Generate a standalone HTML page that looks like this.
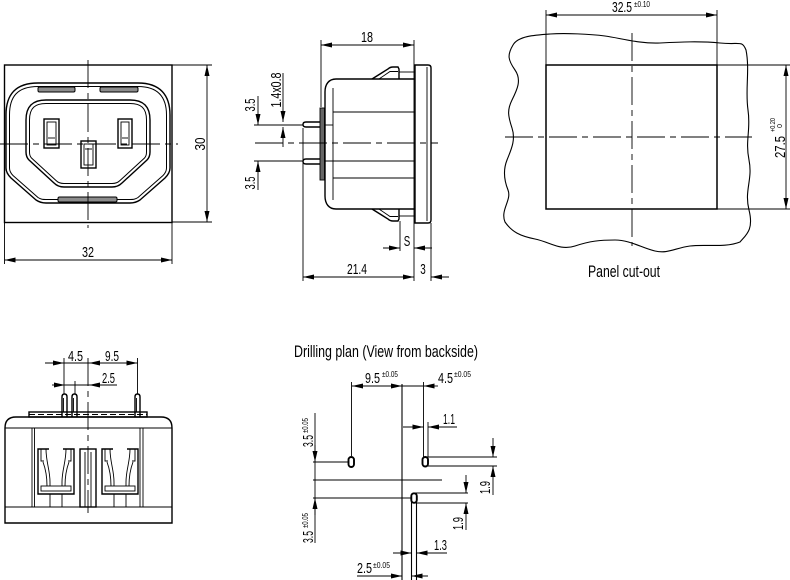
<!DOCTYPE html>
<html><head><meta charset="utf-8"><style>
html,body{margin:0;padding:0;background:#fff;}
svg{display:block;}
text{font-family:"Liberation Sans",sans-serif;fill:#000;stroke:none;}
.d{font-size:15px;}
.s{font-size:8.5px;}
</style></head><body>
<svg width="790" height="580" viewBox="0 0 790 580" xmlns="http://www.w3.org/2000/svg">
<defs>
<marker id="a" viewBox="0 0 11 5" refX="11" refY="2.5" markerWidth="11" markerHeight="5" markerUnits="userSpaceOnUse" orient="auto-start-reverse"><path d="M0,0 L11,2.5 L0,5 Z" fill="#000"/></marker>
</defs>
<rect width="790" height="580" fill="#fff"/>

<!-- ================= FRONT VIEW ================= -->
<g fill="none" stroke="#000" stroke-width="1.4">
<rect x="4.5" y="65" width="167.5" height="157.5"/>
<path d="M6,115 C6,95 15,83 38,83 L138,83 C160,83 170,95 170,115 L170,168 C170,172 168,175 165,178 L140,200 C137,202 134,203 130,203 L46,203 C42,203 39,202 36,200 L11,178 C8,175 6,172 6,168 Z"/>
<path stroke-width="1" d="M9.5,115 C9.5,97 17,86.5 38,86.5 L138,86.5 C158,86.5 166.5,97 166.5,115 L166.5,168 C166.5,171 165,173.5 163,175.5 L138,197.5 C135,199.5 133,199.5 130,199.5 L46,199.5 C43,199.5 41,199.5 38,197.5 L13,175.5 C11,173.5 9.5,171 9.5,168 Z"/>
<path d="M26,120 C26,106 33,100 46,100 L130,100 C143,100 150,106 150,120 L150,152 C150,156 149,158 147,160 L122,183 C119,186 116,187 112,187 L64,187 C60,187 57,186 54,183 L29,160 C27,158 26,156 26,152 Z"/>
<path stroke-width="1" d="M29.5,120 C29.5,108 35,103.5 46,103.5 L130,103.5 C141,103.5 146.5,108 146.5,120 L146.5,152 C146.5,155 145.5,157 144.5,158 L120,180.5 C118,182.5 115,183.5 112,183.5 L64,183.5 C61,183.5 58,182.5 56,180.5 L31.5,158 C30.5,157 29.5,155 29.5,152 Z"/>
</g>
<g fill="#8c8c8c" stroke="#000" stroke-width="1">
<rect x="38" y="87" width="37" height="5" rx="1.5"/>
<rect x="100" y="87" width="38" height="5" rx="1.5"/>
<rect x="58" y="197" width="59" height="5" rx="1.5"/>
</g>
<g fill="#fff" stroke="#000" stroke-width="1.4">
<rect x="44" y="119" width="15" height="29"/>
<rect x="118" y="119" width="14" height="29"/>
<rect x="81" y="141" width="15" height="27"/>
</g>
<g fill="none" stroke="#000" stroke-width="0.9">
<rect x="47" y="122" width="9" height="23"/>
<line x1="48" y1="138" x2="55" y2="138"/>
<rect x="121" y="122" width="8" height="23"/>
<line x1="122" y1="138" x2="128" y2="138"/>
<rect x="84" y="144" width="9" height="21"/>
<line x1="85" y1="149" x2="92" y2="149"/>
</g>
<g stroke="#000" stroke-width="0.9" fill="none" stroke-dasharray="28 5 6 5">
<line x1="88" y1="60" x2="88" y2="228"/>
<line x1="0" y1="144" x2="178" y2="144"/>
</g>
<g stroke="#000" stroke-width="0.9" fill="none">
<line x1="172" y1="65" x2="212" y2="65"/>
<line x1="172" y1="222" x2="212" y2="222"/>
<line x1="4.5" y1="222" x2="4.5" y2="264"/>
<line x1="172" y1="222" x2="172" y2="264"/>
<line x1="207" y1="65" x2="207" y2="222" marker-start="url(#a)" marker-end="url(#a)"/>
<line x1="4.5" y1="260" x2="172" y2="260" marker-start="url(#a)" marker-end="url(#a)"/>
</g>
<text class="d" transform="translate(205,144) rotate(-90)" text-anchor="middle" textLength="13" lengthAdjust="spacingAndGlyphs">30</text>
<text class="d" x="88" y="257" text-anchor="middle" textLength="12" lengthAdjust="spacingAndGlyphs">32</text>

<!-- ================= SIDE VIEW ================= -->
<g fill="none" stroke="#000" stroke-width="1.4">
<path d="M415,65 L428,65 Q431,65 431,68 L431,220 Q431,223 428,223 L415,223 Z"/>
<path d="M415,79 L336,79 C329,79 325,84 325,92 L325,196 C325,204 329,209 336,209 L415,209"/>
<path d="M372,79 L388,69 Q390,67 393,67 L398,67 L399,69 L399,79"/>
<path d="M372,209 L388,219 Q390,221 393,221 L398,221 L399,219 L399,209"/>
<path d="M322,122 L306,122 Q303,122 303,124.5 Q303,127 306,127 L322,127"/>
<path d="M322,159 L306,159 Q303,159 303,161.5 Q303,164 306,164 L322,164"/>
</g>
<g fill="none" stroke="#000" stroke-width="0.9">
<line x1="427" y1="67" x2="427" y2="221"/>
<line x1="333" y1="88" x2="333" y2="200"/>
<line x1="399" y1="72" x2="415" y2="72"/>
<line x1="399" y1="216" x2="415" y2="216"/>
<path d="M379,79 L390,71.5 L398,71.5"/>
<path d="M379,209 L390,216.5 L398,216.5"/>
<line x1="333" y1="112" x2="415" y2="112"/>
<line x1="333" y1="178" x2="415" y2="178"/>
<line x1="325" y1="161" x2="415" y2="161"/>
<line x1="325" y1="125" x2="333" y2="125"/>
</g>
<rect x="320" y="108" width="4.5" height="72" fill="#666" stroke="#000" stroke-width="0.9"/>
<line x1="255" y1="143" x2="438" y2="143" stroke="#000" stroke-width="0.9" stroke-dasharray="28 5 6 5"/>
<g stroke="#000" stroke-width="0.9" fill="none">
<line x1="321" y1="40" x2="321" y2="107"/>
<line x1="414" y1="40" x2="414" y2="281"/>
<line x1="321" y1="45" x2="414" y2="45" marker-start="url(#a)" marker-end="url(#a)"/>
<line x1="303" y1="128" x2="303" y2="281"/>
<line x1="303" y1="277" x2="414" y2="277" marker-start="url(#a)" marker-end="url(#a)"/>
<line x1="431" y1="223" x2="431" y2="281"/>
<line x1="449" y1="277" x2="431" y2="277" marker-end="url(#a)"/>
<line x1="400" y1="221" x2="400" y2="251"/>
<line x1="383" y1="248" x2="400" y2="248" marker-end="url(#a)"/>
<line x1="432" y1="248" x2="414" y2="248" marker-end="url(#a)"/>
<line x1="254" y1="125" x2="303" y2="125"/>
<line x1="254" y1="161" x2="303" y2="161"/>
<line x1="258" y1="96" x2="258" y2="125" marker-end="url(#a)"/>
<line x1="258" y1="190" x2="258" y2="161" marker-end="url(#a)"/>
<line x1="283" y1="73" x2="283" y2="122" marker-end="url(#a)"/>
<line x1="283" y1="147" x2="283" y2="127" marker-end="url(#a)"/>
</g>
<text class="d" x="367" y="42" text-anchor="middle" textLength="12" lengthAdjust="spacingAndGlyphs">18</text>
<text class="d" x="357" y="274" text-anchor="middle" textLength="20" lengthAdjust="spacingAndGlyphs">21.4</text>
<text class="d" x="423" y="274" text-anchor="middle" textLength="5.5" lengthAdjust="spacingAndGlyphs">3</text>
<text class="d" x="407" y="246" text-anchor="middle" textLength="6.5" lengthAdjust="spacingAndGlyphs">S</text>
<text class="d" transform="translate(255,105) rotate(-90)" text-anchor="middle" textLength="13" lengthAdjust="spacingAndGlyphs">3.5</text>
<text class="d" transform="translate(255,183) rotate(-90)" text-anchor="middle" textLength="13" lengthAdjust="spacingAndGlyphs">3.5</text>
<text class="d" transform="translate(281,90) rotate(-90)" text-anchor="middle" textLength="35" lengthAdjust="spacingAndGlyphs">1.4x0.8</text>

<!-- ================= PANEL CUT-OUT ================= -->
<path fill="none" stroke="#000" stroke-width="1.1" d="M513,45 C518,36 535,35 550,34 S590,34 605,36 S640,44 660,43 S700,41 720,43 S742,40 746,50 C750,70 745,90 748,110 S745,140 749,160 S744,190 749,210 S746,235 740,242 C725,248 705,244 690,246 S668,254 655,251 S630,240 615,240 S590,241 575,246 S550,242 535,239 S512,232 505,222 C500,210 512,200 508,190 S503,170 507,160 S516,140 512,128 S507,110 512,100 S522,80 515,70 S507,55 513,45 Z"/>
<rect x="546" y="65" width="171" height="144" fill="none" stroke="#000" stroke-width="1.5"/>
<g stroke="#000" stroke-width="0.9" fill="none" stroke-dasharray="28 5 6 5">
<line x1="632" y1="33" x2="632" y2="246"/>
<line x1="505" y1="137" x2="752" y2="137"/>
</g>
<g stroke="#000" stroke-width="0.9" fill="none">
<line x1="546" y1="10" x2="546" y2="65"/>
<line x1="717" y1="10" x2="717" y2="65"/>
<line x1="546" y1="15" x2="717" y2="15" marker-start="url(#a)" marker-end="url(#a)"/>
<line x1="717" y1="65" x2="790" y2="65"/>
<line x1="717" y1="209" x2="790" y2="209"/>
<line x1="786" y1="65" x2="786" y2="209" marker-start="url(#a)" marker-end="url(#a)"/>
</g>
<text class="d" x="612" y="12" textLength="20" lengthAdjust="spacingAndGlyphs">32.5</text>
<text class="s" x="634" y="7" textLength="16" lengthAdjust="spacingAndGlyphs">±0.10</text>
<text class="d" transform="translate(785,158) rotate(-90)" textLength="22" lengthAdjust="spacingAndGlyphs">27.5</text>
<text style="font-size:7px" transform="translate(775,132) rotate(-90)" textLength="14" lengthAdjust="spacingAndGlyphs">+0.20</text>
<text style="font-size:7px" transform="translate(782,128) rotate(-90)" textLength="4" lengthAdjust="spacingAndGlyphs">0</text>
<text style="font-size:17px" x="624" y="277" text-anchor="middle" textLength="72" lengthAdjust="spacingAndGlyphs">Panel cut-out</text>

<!-- ================= BOTTOM-LEFT VIEW ================= -->
<g fill="none" stroke="#000" stroke-width="1.4">
<path d="M5,523 L5,428 Q5,417 16,417 L161,417 Q172,417 172,428 L172,523 Z"/>
<rect x="29" y="412" width="118" height="5"/>
<path d="M62,417 L62,397 Q62,394 64.5,394 Q67,394 67,397 L67,417"/>
<path d="M72,417 L72,397 Q72,394 74.5,394 Q77,394 77,397 L77,417"/>
<path d="M135,417 L135,397 Q135,394 137.5,394 Q140,394 140,397 L140,417"/>
<path d="M49,449 L38,449 L38,494 L74,494 L74,449 L63,449"/>
<path d="M113,449 L102,449 L102,494 L138,494 L138,449 L127,449"/>
<rect x="80" y="449" width="16" height="58"/>
</g>
<g fill="none" stroke="#000" stroke-width="0.9">
<line x1="5" y1="428" x2="172" y2="428"/>
<line x1="5" y1="507" x2="172" y2="507"/>
<line x1="32" y1="428" x2="32" y2="507"/>
<line x1="34.5" y1="428" x2="34.5" y2="507"/>
<line x1="140" y1="428" x2="140" y2="507"/>
<line x1="143" y1="428" x2="143" y2="507"/>
<line x1="29" y1="414.5" x2="147" y2="414.5" stroke-dasharray="6 3"/>
<line x1="63.5" y1="398" x2="63.5" y2="412"/>
<line x1="73.5" y1="398" x2="73.5" y2="412"/>
<line x1="136.5" y1="398" x2="136.5" y2="412"/>
<line x1="85" y1="452" x2="85" y2="507"/>
<line x1="91" y1="452" x2="91" y2="507"/>
<path d="M41,449 L41,461 L44,461"/>
<path d="M46,449 C46,462 50,470 50,482 L50,486"/>
<path d="M43,462 C46,470 47,478 47,486"/>
<path d="M71,449 L71,461 L68,461"/>
<path d="M66,449 C66,462 62,470 62,482 L62,486"/>
<path d="M69,462 C66,470 65,478 65,486"/>
<rect x="41" y="486" width="30" height="5"/>
<line x1="50" y1="494" x2="50" y2="507"/>
<line x1="62" y1="494" x2="62" y2="507"/>
<path d="M105,449 L105,461 L108,461"/>
<path d="M110,449 C110,462 114,470 114,482 L114,486"/>
<path d="M107,462 C110,470 111,478 111,486"/>
<path d="M135,449 L135,461 L132,461"/>
<path d="M130,449 C130,462 126,470 126,482 L126,486"/>
<path d="M133,462 C130,470 129,478 129,486"/>
<rect x="105" y="486" width="30" height="5"/>
<line x1="114" y1="494" x2="114" y2="507"/>
<line x1="126" y1="494" x2="126" y2="507"/>
</g>
<line x1="88" y1="358" x2="88" y2="513" stroke="#000" stroke-width="0.9" stroke-dasharray="28 5 6 5"/>
<g stroke="#000" stroke-width="0.9" fill="none">
<line x1="64" y1="358" x2="64" y2="394"/>
<line x1="137.5" y1="358" x2="137.5" y2="394"/>
<line x1="75" y1="381" x2="75" y2="394"/>
<line x1="45" y1="363" x2="64" y2="363" marker-end="url(#a)"/>
<line x1="64" y1="363" x2="89" y2="363"/>
<line x1="89" y1="363" x2="137.5" y2="363" marker-start="url(#a)" marker-end="url(#a)"/>
<line x1="52" y1="385" x2="65" y2="385" marker-end="url(#a)"/>
<line x1="65" y1="385" x2="89" y2="385"/>
<line x1="117" y1="385" x2="89" y2="385" marker-end="url(#a)"/>
</g>
<text class="d" x="75.5" y="361" text-anchor="middle" textLength="15" lengthAdjust="spacingAndGlyphs">4.5</text>
<text class="d" x="112" y="361" text-anchor="middle" textLength="14" lengthAdjust="spacingAndGlyphs">9.5</text>
<text class="d" x="108.5" y="383" text-anchor="middle" textLength="13" lengthAdjust="spacingAndGlyphs">2.5</text>

<!-- ================= DRILLING PLAN ================= -->
<text style="font-size:17px" x="294" y="357" textLength="184" lengthAdjust="spacingAndGlyphs">Drilling plan (View from backside)</text>
<g stroke="#000" stroke-width="1.1" fill="none">
<line x1="402" y1="384" x2="402" y2="580"/>
<line x1="426" y1="457" x2="497" y2="457"/>
<line x1="426" y1="466" x2="497" y2="466"/>
<line x1="415" y1="493" x2="468" y2="493"/>
<line x1="415" y1="503" x2="468" y2="503"/>
<line x1="411.5" y1="500" x2="411.5" y2="580"/>
<line x1="416.5" y1="500" x2="416.5" y2="580"/>
<line x1="313" y1="480" x2="442" y2="480"/>
</g>
<g stroke="#000" stroke-width="1.9" fill="#fff">
<rect x="348.5" y="457" width="5.5" height="10" rx="2.75"/>
<rect x="422.5" y="457" width="5.5" height="9.5" rx="2.75"/>
<rect x="411.3" y="493.3" width="5.5" height="9.5" rx="2.75"/>
</g>
<g stroke="#000" stroke-width="0.9" fill="none">
<line x1="352" y1="386" x2="402" y2="386" marker-start="url(#a)" marker-end="url(#a)"/>
<line x1="402" y1="386" x2="424" y2="386"/>
<line x1="438" y1="386" x2="423.5" y2="386" marker-end="url(#a)"/>
<line x1="351.5" y1="382" x2="351.5" y2="456"/>
<line x1="423.5" y1="382" x2="423.5" y2="457"/>
<line x1="428" y1="422" x2="428" y2="457"/>
<line x1="313" y1="462" x2="348" y2="462"/>
<line x1="313" y1="498" x2="411" y2="498"/>
<line x1="315" y1="413" x2="315" y2="543"/>
<line x1="315" y1="445" x2="315" y2="462" marker-end="url(#a)"/>
<line x1="315" y1="515" x2="315" y2="498" marker-end="url(#a)"/>
<line x1="403" y1="427" x2="423.5" y2="427" marker-end="url(#a)"/>
<line x1="457" y1="427" x2="428" y2="427" marker-end="url(#a)"/>
<line x1="493" y1="438" x2="493" y2="457" marker-end="url(#a)"/>
<line x1="493" y1="495" x2="493" y2="466" marker-end="url(#a)"/>
<line x1="466" y1="475" x2="466" y2="493" marker-end="url(#a)"/>
<line x1="466" y1="530" x2="466" y2="503" marker-end="url(#a)"/>
<line x1="393" y1="553" x2="411.5" y2="553" marker-end="url(#a)"/>
<line x1="447" y1="553" x2="416.5" y2="553" marker-end="url(#a)"/>
<line x1="357" y1="576" x2="402" y2="576" marker-end="url(#a)"/>
<line x1="428" y1="576" x2="411.5" y2="576" marker-end="url(#a)"/>
</g>
<text class="d" x="365" y="383" textLength="15" lengthAdjust="spacingAndGlyphs">9.5</text>
<text class="s" x="382" y="377" textLength="16" lengthAdjust="spacingAndGlyphs">±0.05</text>
<text class="d" x="438" y="383" textLength="15" lengthAdjust="spacingAndGlyphs">4.5</text>
<text class="s" x="454" y="377" textLength="17" lengthAdjust="spacingAndGlyphs">±0.05</text>
<text class="d" transform="translate(313,447) rotate(-90)" textLength="12" lengthAdjust="spacingAndGlyphs">3.5</text>
<text class="s" transform="translate(308,433) rotate(-90)" textLength="15" lengthAdjust="spacingAndGlyphs">±0.05</text>
<text class="d" transform="translate(313,543) rotate(-90)" textLength="12" lengthAdjust="spacingAndGlyphs">3.5</text>
<text class="s" transform="translate(308,528) rotate(-90)" textLength="15" lengthAdjust="spacingAndGlyphs">±0.05</text>
<text class="d" x="443" y="424" textLength="12" lengthAdjust="spacingAndGlyphs">1.1</text>
<text class="d" transform="translate(490,494) rotate(-90)" textLength="13" lengthAdjust="spacingAndGlyphs">1.9</text>
<text class="d" transform="translate(463,530) rotate(-90)" textLength="13" lengthAdjust="spacingAndGlyphs">1.9</text>
<text class="d" x="434" y="550" textLength="13" lengthAdjust="spacingAndGlyphs">1.3</text>
<text class="d" x="357" y="573" textLength="15" lengthAdjust="spacingAndGlyphs">2.5</text>
<text class="s" x="373" y="568" textLength="17" lengthAdjust="spacingAndGlyphs">±0.05</text>
</svg>
</body></html>
